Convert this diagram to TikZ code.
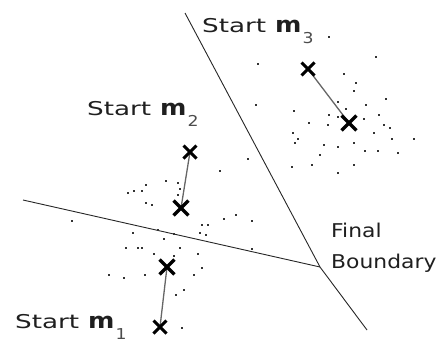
\documentclass[tikz,border=0pt]{standalone}
\usepackage{fontspec}
\setmainfont{DejaVu Sans}[FakeStretch=1.15]
\newfontfamily\startfont{DejaVu Sans}[FakeStretch=1.38]
\usetikzlibrary{shapes.misc,backgrounds}
\newcommand\startlbl[1]{{\startfont\makebox[73pt][l]{Start}}{\fontsize{22}{22}\selectfont\bfseries m}\hspace{1pt}\raisebox{-11pt}{\fontsize{15}{15}\selectfont\color{black!70}#1}}
\begin{document}
\begin{tikzpicture}[x=1pt,y=-1pt,
  lbl/.style={anchor=base west, inner sep=0, font=\fontsize{19}{22}\selectfont, text=black!88},
  xmark/.style={cross out, draw=black, line width=3pt, minimum size=10pt, inner sep=0},
  xfinal/.style={xmark, line width=3.4pt, minimum size=11.5pt},
  bnd/.style={draw=black!85, line width=0.9pt},
  link/.style={draw=black!60, line width=1.3pt},
  dot/.style={fill=black!80}]
\useasboundingbox (0,0) rectangle (441,343);
% boundary
\coordinate (j) at (320,267);
\coordinate (btop) at (185,13);
\coordinate (bleft) at (23,200);
\coordinate (bbot) at (367,330);
\draw[bnd] (btop) -- (j) -- (bbot);
\draw[bnd] (bleft) -- (j);
% dots
\foreach \p in {(328,36),(375,56),(257,63),(343,73),(355,82),(353,90),(385,98),(255,104),
  (337,101),(365,104),(293,110),(345,108),(328,114),(378,114),(337,116),(308,122),(327,124),
  (363,118),(383,124),(389,127),(292,132),(297,138),(373,132),(294,142),(353,142),(391,138),
  (413,138),(323,144),(337,146),(364,150),(377,150),(397,152),(319,154),(247,158),(291,166),
  (311,164),(353,164),(337,172),(219,170),
  (165,180),(177,182),(145,184),(179,188),(133,190),(141,190),(127,192),(177,194),(145,202),
  (151,204),(223,218),(235,214),(251,220),(201,224),(207,224),(132,232),(199,232),(205,234),
  (157,229),(173,233),(163,238),(125,247),(137,247),(141,247),(179,247),(153,253),(197,253),
  (173,255),(251,248),(201,267),(108,274),(123,277),(144,274),(193,274),(183,289),(175,294),
  (181,327),(71,220)}
  \fill[dot] \p rectangle ++(1.5,1.5);
% crosses
\node[xmark]  (s3) at (308,69) {};
\node[xfinal] (f3) at (349,123) {};
\node[xmark]  (s2) at (190,152) {};
\node[xfinal] (f2) at (181,208) {};
\node[xfinal] (f1) at (167,267) {};
\node[xmark]  (s1) at (160,327) {};
\begin{scope}[on background layer]
\draw[link] (s3.center) -- (f3.center);
\draw[link] (s2.center) -- (f2.center);
\draw[link] (s1.center) -- (f1.center);
\end{scope}
% labels
\node[lbl] (l3) at (202,32) {\startlbl{3}};
\node[lbl] (l2) at (87,115) {\startlbl{2}};
\node[lbl] (l1) at (15,328) {\startlbl{1}};
\node[lbl] (lf) at (331,237) {Final};
\node[lbl] (lb) at (331,268) {Boundary};
\end{tikzpicture}
\end{document}
